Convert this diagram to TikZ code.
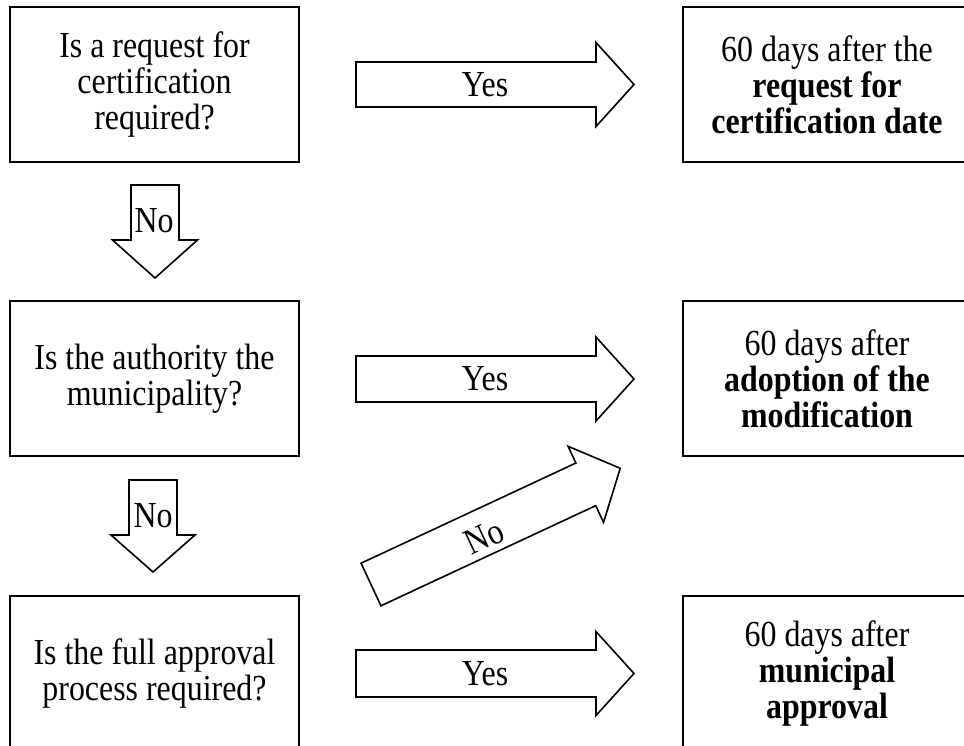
\documentclass[tikz,border=0pt]{standalone}
\usepackage{fontspec}
\setmainfont{Liberation Serif}[FakeStretch=0.87]
\tikzset{
  qbox/.style={draw, line width=1.5pt, minimum width=216.75pt, minimum height=116pt,
    inner sep=0pt, align=center, font=\fontsize{27.5}{27}\selectfont},
  lbl/.style={inner sep=0pt, font=\fontsize{27.5}{27}\selectfont},
  arrowline/.style={draw, line width=1.2pt, line join=miter, fill=white},
  pics/blockarrow/.style n args={4}{code={
    \path[arrowline] (0,-#2) -- (#1,-#2) -- (#1,-#3) -- (#1+#4,0) -- (#1,#3) -- (#1,#2) -- (0,#2) -- cycle;
  }},
}

\begin{document}
\begin{tikzpicture}[x=0.75pt, y=-0.75pt]
\useasboundingbox (0,0) rectangle (964,746);
\clip (0,0) rectangle (964,746);
% Questions on the left, dates on the right
\node[qbox] (q1) at (154.5,84.5) {Is a request for\\certification\\required?};
\node[qbox] (q2) at (154.5,378.5) {Is the authority the\\municipality?};
\node[qbox] (q3) at (154.5,673) {Is the full approval\\process required?};
\node[qbox] (a1) at (827,84.5) {60 days after the\\\textbf{request for}\\\textbf{certification date}};
\node[qbox] (a2) at (827,378.5) {60 days after\\\textbf{adoption of the}\\\textbf{modification}};
\node[qbox] (a3) at (827,673) {60 days after\\\textbf{municipal}\\\textbf{approval}};
% Yes arrows
\pic at (356,84.5) {blockarrow={240}{22.5}{42}{38}};
\pic at (356,379) {blockarrow={240}{23}{42}{38}};
\pic at (356,673.5) {blockarrow={240}{23.5}{42}{38}};
\node[lbl] (yes1) at (485,84.5) {Yes};
\node[lbl] (yes2) at (485,379) {Yes};
\node[lbl] (yes3) at (485,673.5) {Yes};
% No arrows
\pic[rotate=-90] at (155,185) {blockarrow={55}{24}{42.5}{38}};
\pic[rotate=-90] at (153,480) {blockarrow={55}{24}{42}{37}};
\pic[rotate=25] at (371,584.5) {blockarrow={237}{23.5}{42}{38}};
\node[lbl] (no1) at (154,221) {No};
\node[lbl] (no2) at (153,516) {No};
\node[lbl, rotate=25] (no3) at (484,537) {No};
\end{tikzpicture}
\end{document}
